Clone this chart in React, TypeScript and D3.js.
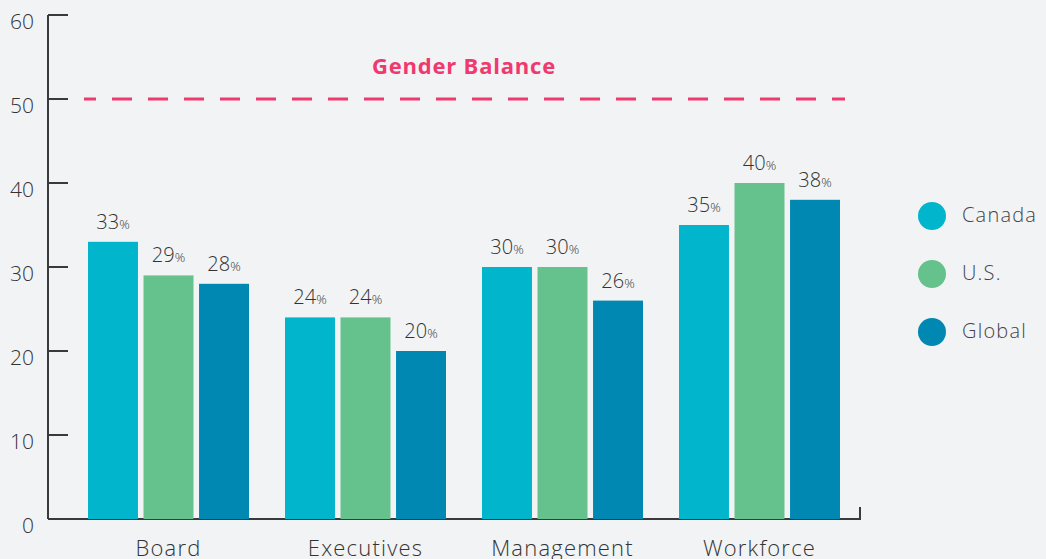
import React from "react";
import * as d3 from "d3";

const categories = ["Board", "Executives", "Management", "Workforce"];
const seriesNames = ["Canada", "U.S.", "Global"];
const canada = [33, 24, 30, 35];
const us = [29, 24, 30, 40];
const global = [28, 20, 26, 38];
const yTicks = [0, 10, 20, 30, 40, 50, 60];
const balanceValue = 50;
const balanceLabel = "Gender Balance";
const colors = ["#00b5cc", "#65c28c", "#0088b2"];

const W = 1046;
const H = 559;
const FONT = "'Open Sans', Lato, sans-serif";

export default function App() {
  const series = [canada, us, global];
  const y = d3.scaleLinear().domain([0, 60]).range([519, 15]);
  const x0 = d3.scaleBand<string>().domain(categories).range([70, 858]).paddingInner(0).paddingOuter(0);
  const x1 = d3
    .scaleBand<string>()
    .domain(seriesNames)
    .range([18, x0.bandwidth() - 18])
    .paddingInner(0.1)
    .paddingOuter(0);
  const axisX = 48;
  const axisEnd = 860;

  return (
    <svg
      width={W}
      height={H}
      style={{ position: "absolute", left: 0, top: 0, display: "block", background: "#f2f3f5" }}
      fontFamily={FONT}
    >
      <rect x={0} y={0} width={W} height={H} fill="#f2f3f5" />
      {/* y axis */}
      <line x1={axisX} x2={axisX} y1={y(60)} y2={y(0)} stroke="#3a3a3a" strokeWidth={2} />
      {yTicks.map((t) => (
        <g key={t}>
          <line x1={axisX} x2={axisX + 20} y1={y(t)} y2={y(t)} stroke="#3a3a3a" strokeWidth={2} />
          <text x={34} y={y(t) + 8} textAnchor="end" dominantBaseline="middle" fontSize={21} fontWeight={300} fill="#333">
            {t}
          </text>
        </g>
      ))}
      {/* x axis */}
      <line x1={axisX} x2={axisEnd} y1={y(0)} y2={y(0)} stroke="#3a3a3a" strokeWidth={2} />
      <line x1={axisEnd} x2={axisEnd} y1={y(0) + 1} y2={y(0) - 12} stroke="#3a3a3a" strokeWidth={2} />
      {/* balance line */}
      <line
        x1={84}
        x2={845}
        y1={y(balanceValue)}
        y2={y(balanceValue)}
        stroke="#f0396e"
        strokeWidth={3}
        strokeDasharray="20 16"
        strokeDashoffset={8}
      />
      <text
        x={464}
        y={y(balanceValue) - 31}
        textAnchor="middle"
        dominantBaseline="middle"
        fontSize={22}
        fontWeight={700}
        letterSpacing={0.8}
        fill="#f0396e"
      >
        {balanceLabel}
      </text>
      {/* bars */}
      {categories.map((c, ci) => (
        <g key={c} transform={`translate(${x0(c)},0)`}>
          {seriesNames.map((s, si) => {
            const v = series[si][ci];
            const bx = x1(s)!;
            return (
              <g key={s}>
                <rect x={bx} y={y(v)} width={x1.bandwidth()} height={y(0) - y(v)} fill={colors[si]} />
                <text x={bx + x1.bandwidth() / 2} y={y(v) - 13} textAnchor="middle" fill="#333" fontWeight={300}>
                  <tspan fontSize={20}>{v}</tspan>
                  <tspan fontSize={13}>%</tspan>
                </text>
              </g>
            );
          })}
          <text
            x={x0.bandwidth() / 2}
            y={556}
            textAnchor="middle"
            fontSize={22}
            fontWeight={300}
            letterSpacing={1.2}
            fill="#333"
          >
            {c}
          </text>
        </g>
      ))}
      {/* legend */}
      {seriesNames.map((s, i) => (
        <g key={s} transform={`translate(932,${216 + i * 58})`}>
          <circle r={14} fill={colors[i]} />
          <text x={30} y={1} dominantBaseline="middle" fontSize={20} fontWeight={300} letterSpacing={1.2} fill="#444">
            {s}
          </text>
        </g>
      ))}
    </svg>
  );
}
